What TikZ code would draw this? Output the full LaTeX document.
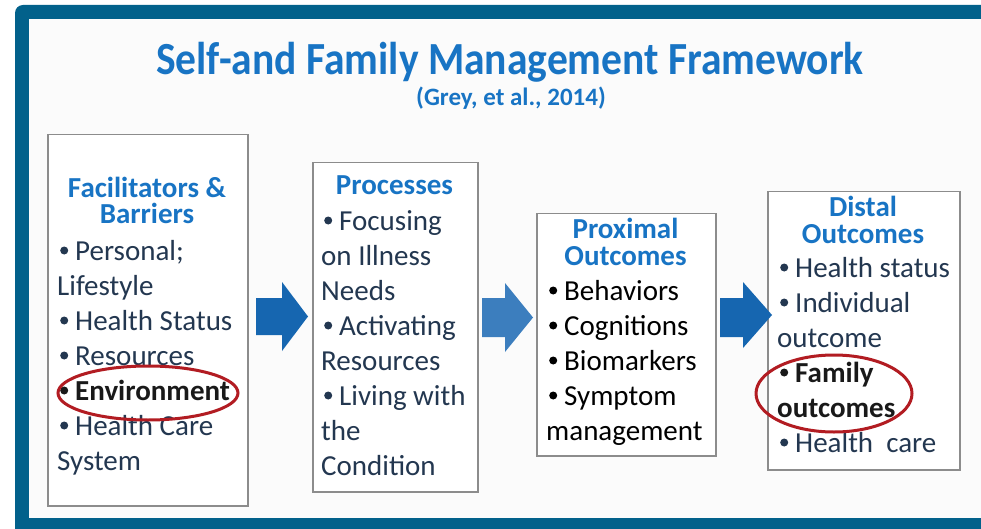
\documentclass[tikz,border=0pt]{standalone}
\usepackage{fontspec}
\setmainfont{Carlito}
\usetikzlibrary{shapes.geometric}
\definecolor{frameblue}{RGB}{2,97,139}
\definecolor{titleblue}{RGB}{24,116,196}
\definecolor{itemcol}{RGB}{35,55,80}
\definecolor{arrowA}{RGB}{22,102,176}
\definecolor{arrowB}{RGB}{60,126,190}
\definecolor{ovalred}{RGB}{178,28,34}
\definecolor{boxgray}{RGB}{140,140,140}
\definecolor{bgpanel}{RGB}{251,251,251}
\newcommand\bul{\makebox[18pt][l]{\hspace{3pt}\tikz[baseline=0pt]\fill (4pt,9.5pt) circle (4pt);}}
\tikzset{
  fbox/.style={draw=boxgray, line width=1.5pt, fill=white, anchor=north west, inner sep=0pt},
  head/.style={anchor=base, inner sep=0pt, font=\fontsize{29}{34}\selectfont\bfseries, text=titleblue},
  item/.style={anchor=base west, inner sep=0pt, font=\fontsize{29}{34}\selectfont, text=itemcol},
  itemblack/.style={item, text=black},
  itembold/.style={item, text=black!90, font=\fontsize{29}{34}\selectfont\bfseries},
  oval/.style={draw=ovalred, line width=3pt, ellipse, inner sep=0pt},
  blockarrow/.style={fill=#1}
}
\begin{document}
\begin{tikzpicture}[x=1pt,y=-1pt]
\useasboundingbox (0,0) rectangle (981,529);
\fill[white] (0,0) rectangle (981,529);
\fill[frameblue, rounded corners=8pt] (15,5) rectangle (1000,550);
\fill[bgpanel] (29,19) rectangle (981,518);

% title
\node[anchor=base, inner sep=0pt, text=titleblue, font=\fontsize{46}{50}\selectfont\bfseries, xscale=0.903] (title) at (510,75) {Self-and Family Management Framework};
\node[anchor=base, inner sep=0pt, text=titleblue, font=\fontsize{25}{28}\selectfont\bfseries] (cite) at (511,106) {(Grey, et al., 2014)};

% boxes
\node[fbox, minimum width=200pt, minimum height=371pt] (b1) at (47,134) {};
\node[fbox, minimum width=165pt, minimum height=329pt] (b2) at (312,162) {};
\node[fbox, minimum width=179pt, minimum height=242pt] (b3) at (536,213) {};
\node[fbox, minimum width=192pt, minimum height=278pt] (b4) at (767,191) {};

% arrows
\fill[blockarrow=arrowA] (256,298) -- (282,298) -- (282,282) -- (308,316.5) -- (282,351) -- (282,335) -- (256,335) -- cycle;
\fill[blockarrow=arrowB] (482,298) -- (505,298) -- (505,283) -- (533,317.5) -- (505,352) -- (505,337) -- (482,337) -- cycle;
\fill[blockarrow=arrowA] (720,298) -- (743,298) -- (743,282) -- (772,315) -- (743,348) -- (743,337) -- (720,337) -- cycle;

% box 1
\node[head] (h1a) at (147,198) {Facilitators \&};
\node[head] (h1b) at (147,223) {Barriers};
\node[item] (b1i1) at (57,260) {\bul Personal;};
\node[item] (b1i2) at (57,295) {Lifestyle};
\node[item] (b1i3) at (57,330) {\bul Health Status};
\node[item] (b1i4) at (57,365) {\bul Resources};
\node[itembold] (b1i5) at (57,400) {\bul Environment};
\node[item] (b1i6) at (57,435) {\bul Health Care};
\node[item] (b1i7) at (57,470) {System};

% box 2
\node[head] (h2) at (394.5,195) {Processes};
\node[item] (b2i1) at (321,230) {\bul Focusing};
\node[item] (b2i2) at (321,265) {on Illness};
\node[item] (b2i3) at (321,300) {Needs};
\node[item] (b2i4) at (321,335) {\bul Activating};
\node[item] (b2i5) at (321,370) {Resources};
\node[item] (b2i6) at (321,405) {\bul Living with};
\node[item] (b2i7) at (321,440) {the};
\node[item] (b2i8) at (321,475) {Condition};

% box 3
\node[head] (h3a) at (625.5,238) {Proximal};
\node[head] (h3b) at (625.5,265) {Outcomes};
\node[itemblack] (b3i1) at (546,300) {\bul Behaviors};
\node[itemblack] (b3i2) at (546,335) {\bul Cognitions};
\node[itemblack] (b3i3) at (546,370) {\bul Biomarkers};
\node[itemblack] (b3i4) at (546,405) {\bul Symptom};
\node[itemblack] (b3i5) at (546,440) {management};

% box 4
\node[head] (h4a) at (863,217) {Distal};
\node[head] (h4b) at (863,243) {Outcomes};
\node[item] (b4i1) at (777,277) {\bul Health status};
\node[item] (b4i2) at (777,312) {\bul Individual};
\node[item] (b4i3) at (777,347) {outcome};
\node[itembold] (b4i4) at (777,382) {\bul Family};
\node[itembold] (b4i5) at (777,417) {outcomes};
\node[item] (b4i6) at (777,452) {\bul Health\ \ care};

% red ovals
\node[oval, minimum width=180pt, minimum height=54pt] (ov1) at (148,393) {};
\node[oval, minimum width=156pt, minimum height=77pt] (ov2) at (834,393.5) {};
\end{tikzpicture}
\end{document}
